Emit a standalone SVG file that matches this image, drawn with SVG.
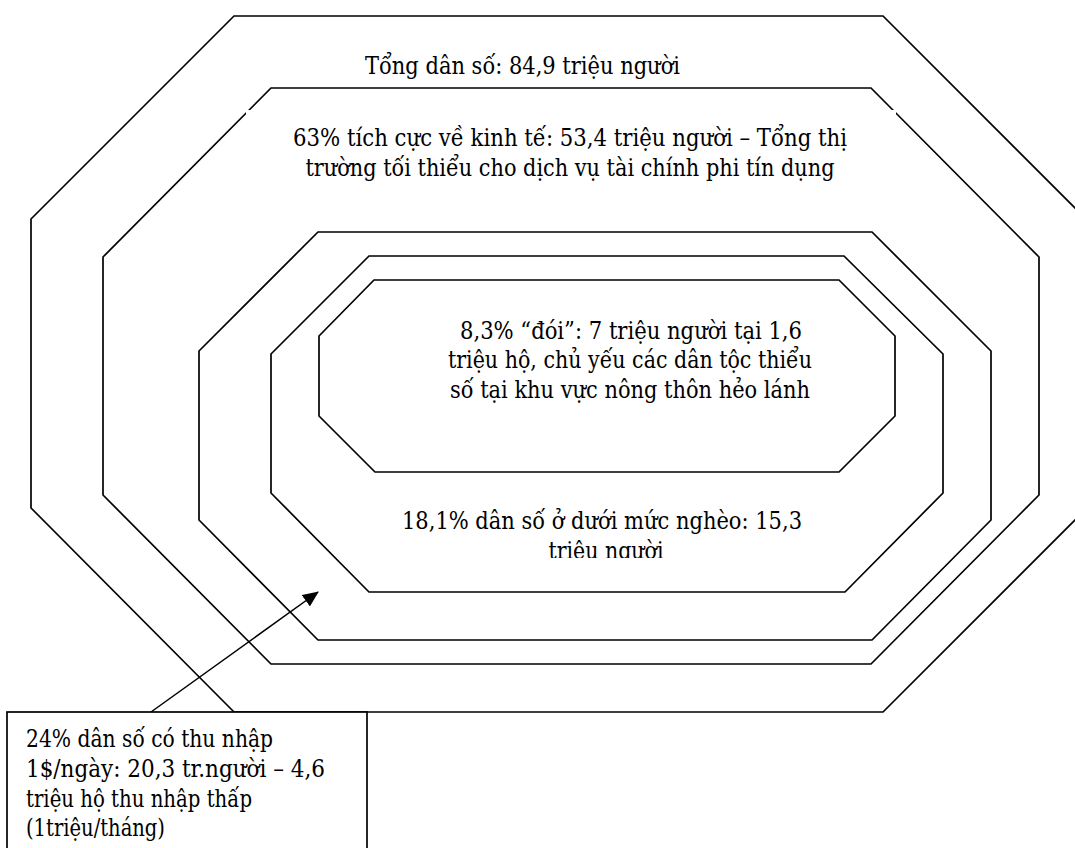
<svg xmlns="http://www.w3.org/2000/svg" width="1075" height="848" viewBox="0 0 1075 848">
  <style>
    .oct { fill: none; stroke: #000; stroke-width: 1.7; stroke-linejoin: miter; }
    .lbl { font-family: 'DejaVu Serif', 'Liberation Serif', serif; font-stretch: condensed; font-size: 24px; fill: #000; }
    .mid { text-anchor: middle; }
    .link { stroke: #000; stroke-width: 1.5; fill: none; }
    .box { fill: #fff; stroke: #000; stroke-width: 1.7; }
  </style>
  <defs>
    <marker id="head" viewBox="0 0 16 14" refX="15" refY="7" markerWidth="16" markerHeight="14" markerUnits="userSpaceOnUse" orient="auto">
      <path d="M0,0 L16,7 L0,14 Z" fill="#000"/>
    </marker>
    <clipPath id="povertyClip">
      <rect x="380" y="495" width="460" height="63"/>
    </clipPath>
  </defs>

  <rect width="1075" height="848" fill="#fff"/>

  <!-- whole population -->
  <g id="total">
    <polygon class="oct" points="234,16 883,16 1086,219 1086,509 883,712 234,712 31,508 31,219"/>
    <text class="lbl" x="365" y="74" textLength="315" lengthAdjust="spacingAndGlyphs">Tổng dân số: 84,9 triệu người</text>
  </g>

  <!-- economically active -->
  <g id="active">
    <polygon class="oct" points="271,88 871,88 1039,257 1039,495 871,664 271,664 103,495 103,257"/>
    <rect x="246" y="110" width="650" height="100" fill="#fff"/>
    <text class="lbl mid" x="570" y="146" textLength="554" lengthAdjust="spacingAndGlyphs">63% tích cực về kinh tế: 53,4 triệu người – Tổng thị</text>
    <text class="lbl mid" x="570" y="176" textLength="529" lengthAdjust="spacingAndGlyphs">trường tối thiểu cho dịch vụ tài chính phi tín dụng</text>
  </g>

  <!-- income of 1$/day -->
  <g id="low-income">
    <polygon class="oct" points="318,232 872,232 991,351 991,520 872,640 318,640 199,520 199,351"/>
  </g>

  <!-- below poverty line -->
  <g id="poverty">
    <polygon class="oct" points="369,256 844,256 943,354 943,493 845,592 369,592 271,493 271,354"/>
    <g clip-path="url(#povertyClip)">
      <text class="lbl mid" x="602" y="529" textLength="400" lengthAdjust="spacingAndGlyphs">18,1% dân số ở dưới mức nghèo: 15,3</text>
      <text class="lbl mid" x="606" y="559" textLength="115" lengthAdjust="spacingAndGlyphs">triệu người</text>
    </g>
  </g>

  <!-- hungry -->
  <g id="hungry">
    <polygon class="oct" points="374,280 839,280 895,336 895,416 839,472 375,472 319,416 319,336"/>
    <text class="lbl mid" x="631" y="339" textLength="342" lengthAdjust="spacingAndGlyphs">8,3% “đói”: 7 triệu người tại 1,6</text>
    <text class="lbl mid" x="630" y="368" textLength="364" lengthAdjust="spacingAndGlyphs">triệu hộ, chủ yếu các dân tộc thiểu</text>
    <text class="lbl mid" x="630" y="398" textLength="360" lengthAdjust="spacingAndGlyphs">số tại khu vực nông thôn hẻo lánh</text>
  </g>

  <!-- connectors -->
  <g id="connectors">
    <line class="link" x1="151" y1="712" x2="318" y2="592" marker-end="url(#head)"/>
  </g>

  <!-- callout box -->
  <g id="callout">
    <rect class="box" x="7" y="712" width="360" height="150"/>
    <text class="lbl" x="26" y="747" textLength="247" lengthAdjust="spacingAndGlyphs">24% dân số có thu nhập</text>
    <text class="lbl" x="26" y="777" textLength="299" lengthAdjust="spacingAndGlyphs">1$/ngày: 20,3 tr.người – 4,6</text>
    <text class="lbl" x="26" y="807" textLength="226" lengthAdjust="spacingAndGlyphs">triệu hộ thu nhập thấp</text>
    <text class="lbl" x="26" y="836" textLength="139" lengthAdjust="spacingAndGlyphs">(1triệu/tháng)</text>
  </g>
</svg>
